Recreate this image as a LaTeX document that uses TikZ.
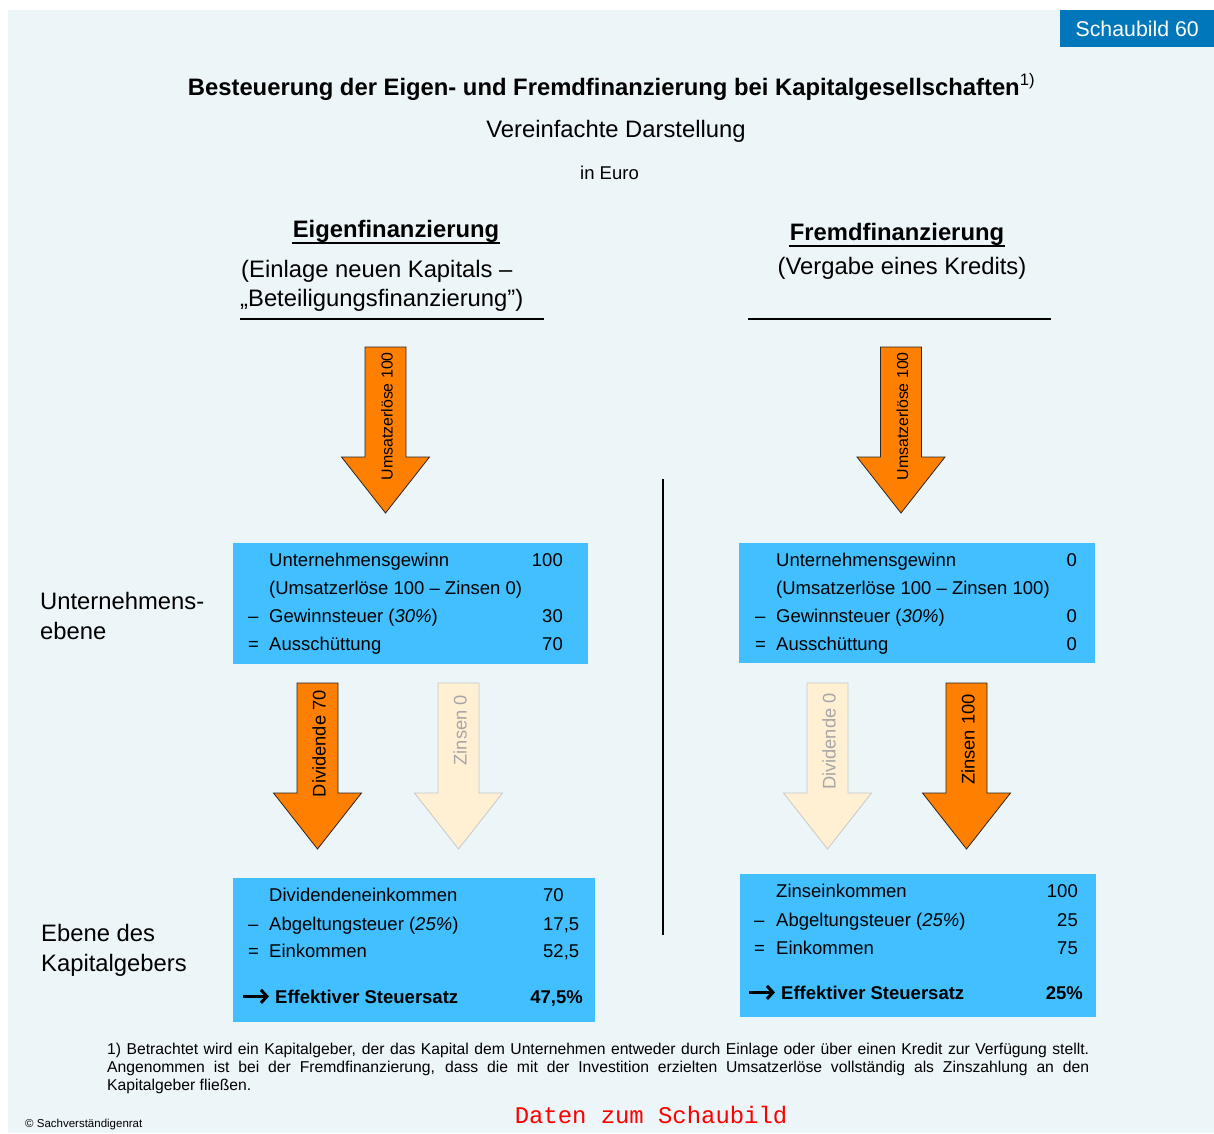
\documentclass[tikz,border=0pt]{standalone}
\usepackage{fontspec}
\setmainfont{Liberation Sans}
\newfontfamily\courierfont{Liberation Mono}
\usetikzlibrary{arrows.meta}
\definecolor{SVRHintergrund}{HTML}{ECF5F8}
\definecolor{SVRBlau}{HTML}{0077BB}
\definecolor{SVRHellblau}{HTML}{41BFFF}
\definecolor{SVROrange}{HTML}{FF8000}
\definecolor{SVRCreme}{HTML}{FFF0D4}
\definecolor{SVRGrau}{HTML}{A6A6A6}
\definecolor{SVRRand}{HTML}{C8C8C8}
\newcommand{\gross}{\fontsize{23.8}{29}\selectfont}
\newcommand{\normal}{\fontsize{18.5}{22}\selectfont}

\begin{document}
\begin{tikzpicture}[x=1pt, y=-1pt,
    zeile/.style={anchor=base west, inner sep=0pt, font=\normal},
    wert/.style={anchor=base east, inner sep=0pt, font=\normal},
    kasten/.style={anchor=north west, fill=SVRHellblau, inner sep=0pt},
    pfeil voll/.style={fill=SVROrange, draw=black!85, line width=0.8pt},
    pfeil leer/.style={fill=SVRCreme, draw=SVRRand, line width=0.8pt},
    pfeiltext voll/.style={rotate=90, anchor=east, inner sep=0pt, text=black},
    pfeiltext leer/.style={rotate=90, anchor=east, inner sep=0pt, text=SVRGrau},
    kurzpfeil/.style={line width=3pt, -{Straight Barb[length=6pt, width=13pt]}},
    linie/.style={line width=2pt}]
    \useasboundingbox (0,0) rectangle (1214,1133);
    \fill[SVRHintergrund] (8,10) rectangle (1214,1133);

    % Kopf
    \node[fill=SVRBlau, text=white, anchor=north west, minimum width=154pt, minimum height=37pt,
        font=\fontsize{21.3}{24}\selectfont] (schaubild) at (1060,10) {Schaubild 60};
    \node[anchor=base, inner sep=0pt, font=\gross\bfseries] (titel) at (611.5,95)
        {Besteuerung der Eigen- und Fremdfinanzierung bei Kapitalgesellschaften\textsuperscript{\mdseries 1)}};
    \node[anchor=base, inner sep=0pt, font=\gross] (untertitel) at (616,137) {Vereinfachte Darstellung};
    \node[anchor=base, inner sep=0pt, font=\normal] (einheit) at (609.5,179) {in Euro};

    % Spaltenkoepfe
    \node[anchor=base, inner sep=1pt, font=\gross\bfseries] (eigen) at (396,237) {Eigenfinanzierung};
    \draw[linie] ([yshift=-6pt]eigen.base west) -- ([yshift=-6pt]eigen.base east);
    \node[zeile, font=\gross] (eigen-1) at (241,277) {(Einlage neuen Kapitals –};
    \node[zeile, font=\gross] (eigen-2) at (240,306) {„Beteiligungsfinanzierung”)};
    \node[anchor=base, inner sep=1pt, font=\gross\bfseries] (fremd) at (897,240) {Fremdfinanzierung};
    \draw[linie] ([yshift=-6pt]fremd.base west) -- ([yshift=-6pt]fremd.base east);
    \node[anchor=base, inner sep=0pt, font=\gross] (fremd-1) at (902,274) {(Vergabe eines Kredits)};
    \draw[linie] (240,319) -- (544,319);
    \draw[linie] (748,319) -- (1051,319);
    \draw[linie] (663,479) -- (663,935);

    % Ebenen
    \node[zeile, font=\gross] (ebene-u1) at (40,609) {Unternehmens-};
    \node[zeile, font=\gross] (ebene-u2) at (40,639) {ebene};
    \node[zeile, font=\gross] (ebene-k1) at (41,941) {Ebene des};
    \node[zeile, font=\gross] (ebene-k2) at (41,971) {Kapitalgebers};

    % Pfeile
    \foreach \x/\y/\abst/\art/\gr/\beschriftung [count=\i] in {
        385.5/347/5/voll/15.9/Umsatzerlöse 100,
        901/347/5/voll/15.9/Umsatzerlöse 100,
        317.5/683/7/voll/18.3/Dividende 70,
        458.5/683/12/leer/18.3/Zinsen 0,
        827.5/683/10/leer/18.3/Dividende 0,
        966.5/683/11/voll/18.3/Zinsen 100} {
        \draw[pfeil \art] (\x-20.5,\y) -- (\x+20.5,\y) -- (\x+20.5,\y+110) -- (\x+44,\y+110)
            -- (\x,\y+166) -- (\x-44,\y+110) -- (\x-20.5,\y+110) -- cycle;
        \node[pfeiltext \art, font=\fontsize{\gr}{\gr}\selectfont] (pfeil-\i) at (\x+1.5,\y+\abst) {\beschriftung};
    }

    % Unternehmensebene
    \node[kasten, minimum width=355pt, minimum height=121pt] (ue-eigen) at (233,543) {};
    \foreach \y/\op/\posten/\betrag [count=\i] in {
        566//Unternehmensgewinn/100,
        594//{(Umsatzerlöse 100 – Zinsen 0)}/,
        622/–/{Gewinnsteuer (\textit{30\%})}/30,
        650/=/Ausschüttung/70} {
        \node[zeile] (ue-eigen-op-\i) at (248,\y) {\op};
        \node[zeile] (ue-eigen-posten-\i) at (269,\y) {\posten};
        \node[wert] (ue-eigen-betrag-\i) at (563,\y) {\betrag};
    }
    \node[kasten, minimum width=356pt, minimum height=120pt] (ue-fremd) at (739,543) {};
    \foreach \y/\op/\posten/\betrag [count=\i] in {
        566//Unternehmensgewinn/0,
        594//{(Umsatzerlöse 100 – Zinsen 100)}/,
        622/–/{Gewinnsteuer (\textit{30\%})}/0,
        650/=/Ausschüttung/0} {
        \node[zeile] (ue-fremd-op-\i) at (755,\y) {\op};
        \node[zeile] (ue-fremd-posten-\i) at (776,\y) {\posten};
        \node[wert] (ue-fremd-betrag-\i) at (1077,\y) {\betrag};
    }

    % Ebene des Kapitalgebers
    \node[kasten, minimum width=362pt, minimum height=144pt] (kg-eigen) at (233,878) {};
    \foreach \y/\op/\posten/\betrag [count=\i] in {
        901//Dividendeneinkommen/70,
        930/–/{Abgeltungsteuer (\textit{25\%})}/{17,5},
        957/=/Einkommen/{52,5}} {
        \node[zeile] (kg-eigen-op-\i) at (248,\y) {\op};
        \node[zeile] (kg-eigen-posten-\i) at (269,\y) {\posten};
        \node[zeile] (kg-eigen-betrag-\i) at (543,\y) {\betrag};
    }
    \node[zeile, font=\normal\bfseries] (kg-eigen-satz) at (275,1003) {Effektiver Steuersatz};
    \node[wert, font=\normal\bfseries] (kg-eigen-wert) at (583,1003) {47,5\%};
    \coordinate (kp-eigen) at (243,0);
    \draw[kurzpfeil] (kp-eigen |- kg-eigen-satz.west) -- ([xshift=-6pt]kg-eigen-satz.west);

    \node[kasten, minimum width=356pt, minimum height=143pt] (kg-fremd) at (740,874) {};
    \foreach \y/\op/\posten/\betrag [count=\i] in {
        897//Zinseinkommen/100,
        926/–/{Abgeltungsteuer (\textit{25\%})}/25,
        954/=/Einkommen/75} {
        \node[zeile] (kg-fremd-op-\i) at (754,\y) {\op};
        \node[zeile] (kg-fremd-posten-\i) at (776,\y) {\posten};
        \node[wert] (kg-fremd-betrag-\i) at (1078,\y) {\betrag};
    }
    \node[zeile, font=\normal\bfseries] (kg-fremd-satz) at (781,999) {Effektiver Steuersatz};
    \node[wert, font=\normal\bfseries] (kg-fremd-wert) at (1083,999) {25\%};
    \coordinate (kp-fremd) at (749,0);
    \draw[kurzpfeil] (kp-fremd |- kg-fremd-satz.west) -- ([xshift=-6pt]kg-fremd-satz.west);

    % Fuss
    \node[anchor=base west, inner sep=0pt, text width=982pt, align=justify,
        font=\fontsize{15.7}{18}\selectfont] (fussnote) at (107,1054)
        {\hyphenpenalty=10000\relax
        1) Betrachtet wird ein Kapitalgeber, der das Kapital dem Unternehmen entweder durch Einlage oder über einen Kredit zur Verfügung stellt.\linebreak
        Angenommen ist bei der Fremdfinanzierung, dass die mit der Investition erzielten Umsatzerlöse vollständig als Zinszahlung an den\linebreak
        Kapitalgeber fließen.};
    \node[zeile, font=\fontsize{11.5}{13}\selectfont] (copyright) at (25,1127) {© Sachverständigenrat};
    \node[anchor=base, inner sep=0pt, text=red, font=\courierfont\fontsize{23.9}{26}\selectfont] (daten) at (651,1123) {Daten zum Schaubild};
\end{tikzpicture}
\end{document}
